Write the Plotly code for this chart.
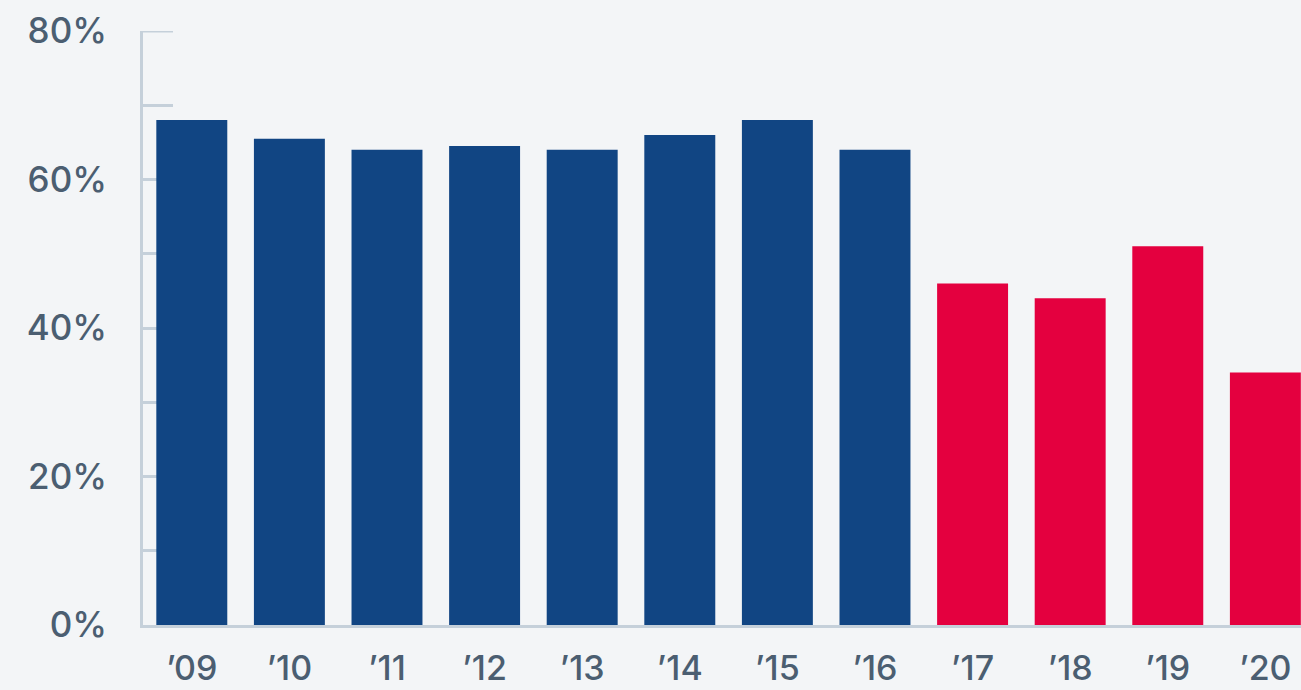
import plotly.graph_objects as go

years = ["’09", "’10", "’11", "’12", "’13", "’14", "’15", "’16", "’17", "’18", "’19", "’20"]
values = [68, 65.5, 64, 64.5, 64, 66, 68, 64, 46, 44, 51, 34]
n_blue = 8

BLUE = "#114583"
RED = "#e4003f"
BG = "#f3f5f7"
AXIS = "#c5d0da"
TEXT = "#4b5e71"

colors = [BLUE] * n_blue + [RED] * (len(years) - n_blue)

ytickvals = list(range(0, 81, 10))
yticktext = [f"{v}%" if v % 20 == 0 else "" for v in ytickvals]
ymax = ytickvals[-1]

fig = go.Figure(go.Bar(x=list(range(len(years))), y=values, marker=dict(color=colors, line=dict(width=0)),
                       hoverinfo="skip", cliponaxis=False))

FONT = "Inter, sans-serif"
fig.update_layout(
    width=1301, height=690,
    margin=dict(l=143, r=0, t=31, b=65),
    paper_bgcolor=BG, plot_bgcolor=BG,
    bargap=0.273,
    showlegend=False,
    font=dict(family=FONT, color=TEXT, size=35),
)
fig.update_xaxes(
    range=[-0.5, 11.365],
    tickvals=list(range(len(years))), ticktext=years,
    showgrid=False, zeroline=False, automargin=False,
    showline=True, linecolor=AXIS, linewidth=3,
    ticks="", ticklabelstandoff=11,
    tickfont=dict(family=FONT, size=34, color=TEXT, weight=500),
    layer="below traces",
)
fig.update_yaxes(
    range=[0, ymax],
    tickvals=ytickvals, ticktext=yticktext,
    showgrid=False, zeroline=False, automargin=False,
    showline=True, linecolor=AXIS, linewidth=3,
    ticks="inside", ticklen=30, tickwidth=3, tickcolor=AXIS,
    ticklabelstandoff=26,
    tickfont=dict(family=FONT, size=35, color=TEXT, weight=500),
    layer="below traces",
)
# top tick at the end of the axis
fig.add_shape(type="line", xref="x", yref="y", xsizemode="pixel", xanchor=-0.5,
              x0=0, x1=30, y0=ymax, y1=ymax, line=dict(color=AXIS, width=3), layer="below")

fig.write_html("out.html", config={"displayModeBar": False})
